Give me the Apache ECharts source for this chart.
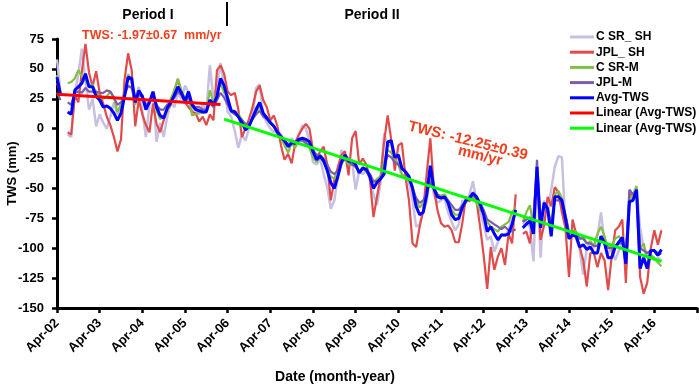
<!DOCTYPE html>
<html>
<head>
<meta charset="utf-8">
<script src="https://cdn.jsdelivr.net/npm/echarts@6/dist/echarts.min.js"></script>
<style>
  html, body { margin: 0; padding: 0; background: #fff; }
  #chart { width: 699px; height: 386px; }
</style>
</head>
<body>
<div id="chart"></div>
<script>
// month index 0 = Apr-02, one value per month
const tickLabels = ['Apr-02', 'Apr-03', 'Apr-04', 'Apr-05', 'Apr-06', 'Apr-07', 'Apr-08', 'Apr-09',
  'Apr-10', 'Apr-11', 'Apr-12', 'Apr-13', 'Apr-14', 'Apr-15', 'Apr-16']

const csrSh = [58, 30, null, -5, -7, 30, 45, 67, 40, 16,
  25, 2, 12, 5, 0, 10, 22, 12, 20, 30,
  46, 38, 25, 35, 15, -7, 20, 30, -11, 5,
  -7, 10, 22, 18, 30, 25, 36, 30, 15, 18,
  12, 20, 15, 53, 25, 35, 55, 35, 14, 10,
  -2, -16, -5, -10, 0, 10, 34, 37, 12, 5,
  0, -3, -2, -5, -10, -14, -8, -12, -6, 3,
  0, -10, -28, -30, -25, -38, -49, -67, -60, -40,
  -18, -22, -25, -28, -51, -35, -38, -35, -42, -55,
  -64, -45, -4, -15, -12, -30, -28, -40, -38, -45,
  -60, -82, -80, -70, -60, -40, -55, -62, -60, -58,
  -70, -78, -85, -80, -60, -62, -55, -44, -62, -70,
  -80, -93, -90, -103, -95, -88, -90, -85, -75, -72,
  null, -80, -78, -82, -111, -38, -108, -60, -70, -51,
  -32, -23, -24, -80, -90, -85, -92, -101, -122, -100,
  -95, -100, -90, -70, -95, -105, -100, -110, -102, -95,
  -108, -62, -60, -50, -83, -100, -108, -105, -110, -108,
  -110]

const jplSh = [38, 30, null, -3, -5, 28, 22, 48, 71, 47,
  35, 48, 30, 21, 10, 3, -7, -19, -9, 41,
  63, 49, 2, 24, 12, 3, -3, 21, 4, -3,
  7, 16, 20, 32, 41, 30, 22, 18, 14, 13,
  6, 10, 3, 12, 7, 49, 53, 46, 31, 28,
  30, 16, -7, 0, 8, 18, 31, 36, 24, 18,
  7, 11, 2, -14, -26, -21, -29, -12, -5, 0,
  4, 0, -18, -25, -19, -15, -30, -60, -43, -32,
  -22, -19, -39, -8, -2, -30, -25, -30, -42, -74,
  -57, -40, -11, 11, -9, -35, -14, -12, -40, -60,
  -96, -99, -82, -68, -37, -8, -50, -68, -79, -82,
  -81, -85, -95, -95, -79, -57, -61, -53, -61, -82,
  -106, -134, -99, -118, -107, -100, -114, -88, -96, -55,
  null, -88, -86, -96, -72, -35, -93, -81, -57, -65,
  -49, -53, -70, -83, -124, -76, -88, -99, -110, -132,
  -104, -104, -116, -104, -110, -135, -107, -85, -82, -76,
  -129, -54, -57, -53, -124, -138, -129, -100, -85, -97,
  -85]

const csrM = [45, 30, null, 38, 39, 42, 49, 44, 40, 36,
  37, 30, 27, 25, 27, 31, 26, 14, 20, 30,
  45, 40, 20, 30, 28, 20, 22, 30, 15, 8,
  10, 14, 25, 32, 42, 32, 25, 28, 11, 12,
  14, 13, 15, 32, 22, 30, 38, 30, 28, 15,
  15, 12, 8, 2, 3, 8, 14, 18, 12, 10,
  6, 2, -5, -8, -14, -20, -12, -16, -10, -8,
  -12, -16, -24, -28, -24, -28, -34, -40, -42, -36,
  -30, -25, -30, -30, -32, -36, -32, -36, -40, -45,
  -42, -40, -28, -18, -20, -25, -30, -38, -42, -44,
  -48, -60, -66, -62, -55, -42, -50, -55, -56, -55,
  -60, -68, -72, -72, -65, -62, -58, -58, -62, -68,
  -70, -78, -82, -84, -86, -82, -80, -78, -70, -66,
  null, -78, -70, -64, -82, -35, -80, -62, -66, -80,
  -55, -52, -58, -72, -88, -85, -86, -92, -90, -96,
  -94, -98, -88, -82, -90, -100, -98, -92, -90, -94,
  -105, -60, -55, -48, -100, -96, -108, -106, -108, -112,
  -115]

const jplM = [30, 24, null, 22, 20, 30, 31, 30, 34, 31,
  31, 31, 30, 30, 32, 31, 26, 20, 22, 28,
  36, 34, 22, 28, 27, 20, 22, 28, 20, 16,
  16, 20, 22, 26, 31, 28, 22, 26, 20, 18,
  18, 16, 16, 22, 18, 24, 30, 26, 20, 14,
  12, 10, 7, 4, 4, 8, 12, 15, 10, 8,
  5, 2, -2, -6, -10, -13, -12, -12, -10, -10,
  -12, -14, -18, -22, -22, -25, -30, -36, -38, -35,
  -28, -25, -28, -30, -32, -36, -34, -35, -38, -44,
  -44, -42, -32, -22, -24, -28, -30, -34, -36, -42,
  -50, -58, -62, -60, -54, -44, -50, -55, -58, -58,
  -60, -64, -68, -68, -64, -60, -58, -56, -58, -62,
  -68, -76, -78, -80, -82, -84, -82, -85, -86, -84,
  null, -78, -76, -74, -80, -26, -78, -66, -68, -82,
  -60, -60, -62, -72, -86, -86, -88, -92, -92, -96,
  -96, -98, -98, -90, -94, -100, -100, -98, -96, -96,
  -104, -51, -55, -52, -100, -102, -104, -102, -102, -104,
  -105]

const avgTws = [43, 28, null, 14, 12, 32, 35, 38, 46, 35,
  35, 27, 24, 18, 19, 17, 13, 7, 13, 27,
  43, 42, 22, 32, 27, 16, 22, 31, 18, 11,
  9, 17, 22, 28, 35, 30, 23, 31, 20, 16,
  15, 14, 14, 24, 20, 27, 42, 36, 25, 15,
  14, 10, 5, -1, 2, 9, 16, 22, 13, 9,
  5, 2, -3, -7, -10, -15, -12, -12, -9, -8,
  -9, -11, -19, -26, -23, -27, -35, -45, -50, -40,
  -28, -22, -27, -27, -30, -37, -33, -34, -40, -50,
  -45, -42, -38, -11, -10, -24, -22, -33, -36, -40,
  -50, -65, -72, -70, -55, -31, -50, -57, -58, -57,
  -62, -72, -76, -75, -66, -60, -58, -54, -57, -63,
  -72, -86, -82, -88, -93, -89, -89, -88, -80, -68,
  null, -83, -80, -77, -88, -32, -83, -62, -67, -90,
  -57, -57, -60, -75, -92, -89, -90, -99, -97, -101,
  -99, -104, -104, -90, -96, -108, -108, -99, -95, -91,
  -113, -61, -60, -51, -117, -108, -117, -102, -102, -106,
  -101]

// linear fits of Avg-TWS: [month index, value]
const trendPeriod1 = [[0, 28.7], [46, 20.3]]
const trendPeriod2 = [[47, 8], [170, -111]]

const font = '"Liberation Sans", Arial, sans-serif'
const toXY = arr => arr.map((v, i) => [i, v === null ? '-' : v])

function lineSeries(name, data, color, width, z) {
  return {
    name,
    data,
    type: 'line',
    color,
    z,
    showSymbol: false,
    symbol: 'none',
    connectNulls: false,
    lineStyle: { color, width },
    emphasis: { disabled: true }
  }
}

const chart = echarts.init(document.getElementById('chart'))

const option = {
  backgroundColor: '#fff',
  animation: false,
  grid: { left: 57, right: 2, top: 39, bottom: 78, containLabel: false, outerBoundsMode: 'none' },
  legend: {
    orient: 'vertical',
    left: 565,
    top: 26,
    icon: 'rect',
    itemWidth: 24,
    itemHeight: 3,
    itemGap: 3.2,
    textStyle: { fontFamily: font, fontWeight: 'bold', fontSize: 12, color: '#000', padding: [0, 0, 0, -3] },
    data: ['C SR_ SH', 'JPL_ SH', 'C SR-M', 'JPL-M', 'Avg-TWS', 'Linear (Avg-TWS)', 'Linear (Avg-TWS) ']
  },
  xAxis: {
    type: 'value',
    min: 0,
    max: 180,
    interval: 12,
    axisLine: { show: true, onZero: false, lineStyle: { color: '#000', width: 3 } },
    axisTick: { show: true, length: 5, lineStyle: { color: '#000', width: 2.5 } },
    splitLine: { show: false },
    axisLabel: {
      rotate: 45,
      margin: 13,
      align: 'right',
      verticalAlign: 'middle',
      fontFamily: font,
      fontWeight: 'bold',
      fontSize: 13,
      color: '#000',
      formatter: v => tickLabels[v / 12] || ''
    }
  },
  yAxis: {
    type: 'value',
    min: -150,
    max: 75,
    interval: 25,
    name: 'TWS (mm)',
    nameLocation: 'middle',
    nameGap: 38,
    nameMoveOverlap: false,
    nameTextStyle: { fontFamily: font, fontWeight: 'bold', fontSize: 13, color: '#000' },
    axisLine: { show: true, lineStyle: { color: '#000', width: 3 } },
    axisTick: { show: true, length: 5, lineStyle: { color: '#000', width: 2.5 } },
    splitLine: { show: false },
    axisLabel: { margin: 13, fontFamily: font, fontWeight: 'bold', fontSize: 13, color: '#000' }
  },
  graphic: [
    { type: 'text', x: 148, y: 15, style: { text: 'Period I', font: 'bold 14px ' + font, fill: '#000', textAlign: 'center', textVerticalAlign: 'middle' } },
    { type: 'text', x: 372, y: 15, style: { text: 'Period II', font: 'bold 14px ' + font, fill: '#000', textAlign: 'center', textVerticalAlign: 'middle' } },
    { type: 'line', shape: { x1: 227, y1: 2, x2: 227, y2: 26 }, style: { stroke: '#000', lineWidth: 2 } },
    { type: 'text', x: 82, y: 36, style: { text: 'TWS: -1.97\u00b10.67  mm/yr', font: 'bold 12.5px ' + font, fill: '#f0401e', textVerticalAlign: 'middle' } },
    { type: 'text', x: 468, y: 141, rotation: -14 * Math.PI / 180, style: { text: 'TWS: -12.25\u00b10.39', font: 'bold 15px ' + font, fill: '#f0401e', textAlign: 'center', textVerticalAlign: 'middle' } },
    { type: 'text', x: 480, y: 156, rotation: -14 * Math.PI / 180, style: { text: 'mm/yr', font: 'bold 15px ' + font, fill: '#f0401e', textAlign: 'center', textVerticalAlign: 'middle' } },
    { type: 'text', x: 335, y: 377, style: { text: 'Date (month-year)', font: 'bold 14px ' + font, fill: '#000', textAlign: 'center', textVerticalAlign: 'middle' } }
  ],
  series: [
    lineSeries('C SR_ SH', toXY(csrSh), '#c9bfe0', 2.5, 2),
    lineSeries('JPL_ SH', toXY(jplSh), '#e04b4b', 2.2, 3),
    lineSeries('C SR-M', toXY(csrM), '#84bf45', 2.2, 4),
    lineSeries('JPL-M', toXY(jplM), '#7b5ea7', 2.2, 5),
    lineSeries('Avg-TWS', toXY(avgTws), '#0000ff', 3, 6),
    lineSeries('Linear (Avg-TWS)', trendPeriod1, '#ff0000', 3, 7),
    lineSeries('Linear (Avg-TWS) ', trendPeriod2, '#00ff00', 3, 8)
  ]
}

chart.setOption(option)
</script>
</body>
</html>
